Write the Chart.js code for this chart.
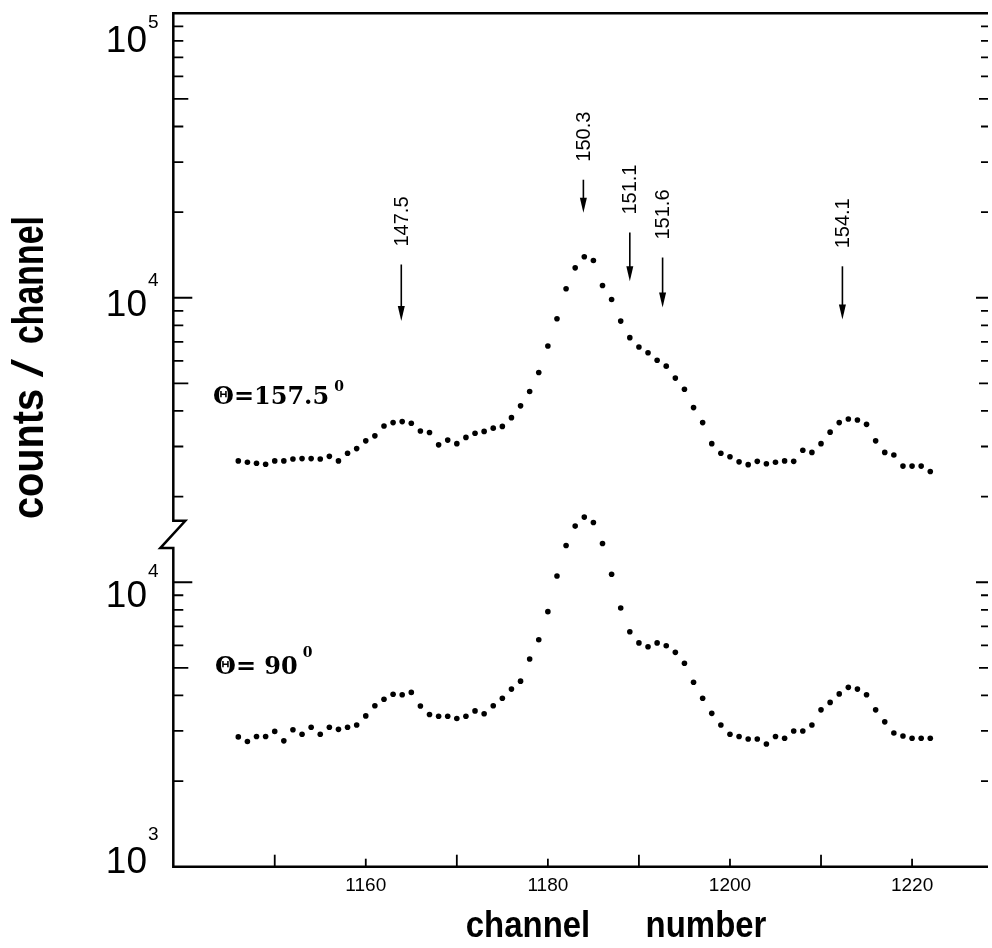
<!DOCTYPE html>
<html>
<head>
<meta charset="utf-8">
<script src="https://cdn.jsdelivr.net/npm/chart.js@4.4.0/dist/chart.umd.min.js"></script>
<style>
  html, body { margin: 0; padding: 0; background: #fff; }
  #wrap { width: 992px; height: 948px; }
</style>
</head>
<body>
<div id="wrap"><canvas id="myChart" width="992" height="948"></canvas></div>
<script>
// channel numbers of the measured points
const channels = [
  1146, 1147, 1148, 1149, 1150, 1151, 1152, 1153, 1154, 1155,
  1156, 1157, 1158, 1159, 1160, 1161, 1162, 1163, 1164, 1165,
  1166, 1167, 1168, 1169, 1170, 1171, 1172, 1173, 1174, 1175,
  1176, 1177, 1178, 1179, 1180, 1181, 1182, 1183, 1184, 1185,
  1186, 1187, 1188, 1189, 1190, 1191, 1192, 1193, 1194, 1195,
  1196, 1197, 1198, 1199, 1200, 1201, 1202, 1203, 1204, 1205,
  1206, 1207, 1208, 1209, 1210, 1211, 1212, 1213, 1214, 1215,
  1216, 1217, 1218, 1219, 1220, 1221, 1222,
];

// counts / channel, theta = 157.5 deg (upper panel)
const counts157 = [
  2670, 2640, 2620, 2600, 2670, 2670, 2710, 2720, 2720, 2710,
  2770, 2670, 2840, 2950, 3140, 3270, 3540, 3640, 3670, 3620,
  3400, 3360, 3040, 3160, 3070, 3230, 3340, 3390, 3480, 3530,
  3790, 4170, 4680, 5460, 6770, 8440, 10760, 12740, 13930, 13520,
  11050, 9860, 8280, 7240, 6710, 6410, 6030, 5750, 5220, 4770,
  4110, 3640, 3070, 2840, 2760, 2650, 2590, 2660, 2610, 2640,
  2670, 2660, 2910, 2860, 3070, 3370, 3640, 3750, 3720, 3590,
  3140, 2860, 2800, 2560, 2560, 2560, 2450,
];

// counts / channel, theta = 90 deg (lower panel)
const counts90 = [
  2860, 2755, 2870, 2870, 2990, 2770, 3030, 2920, 3090, 2920,
  3090, 3040, 3090, 3150, 3390, 3680, 3880, 4040, 4020, 4100,
  3670, 3430, 3380, 3380, 3320, 3380, 3530, 3450, 3680, 3910,
  4210, 4490, 5370, 6280, 7880, 10520, 13460, 15750, 16940, 16210,
  13680, 10670, 8120, 6700, 6120, 5930, 6120, 5980, 5670, 5190,
  4450, 3910, 3460, 3150, 2920, 2870, 2810, 2810, 2700, 2870,
  2830, 3000, 3000, 3150, 3560, 3780, 4050, 4270, 4210, 4020,
  3560, 3230, 2950, 2880, 2830, 2830, 2830,
];

const xTickLabels = [1160, 1180, 1200, 1220];
const xMinorTicks = [1150, 1170, 1190, 1210];

// marked lines (energies), where they sit and how the arrows run
const arrowLabels = ['147.5', '150.3', '151.1', '151.6', '154.1'];
const arrowChannels = [1163.9, 1183.9, 1189.0, 1192.6, 1212.35];
const arrowTips = [8280, 19900, 11440, 9250, 8390];
const arrowTails = [13090, 26000, 16950, 13850, 12900];

const angleLabels = ['157.5', '90'];

// broken axis: visible part of each panel
const upperAxisMin = 1644;
const lowerAxisMax = 13180;

const SANS = '"Liberation Sans", Arial, sans-serif';

function decadeTicks(lo, hi) {
  const out = [];
  for (let d = 1000; d <= 100000; d *= 10) {
    for (let m = 1; m <= 9; m++) {
      const v = m * d;
      if (v > lo && v < hi) out.push({ v, m });
    }
  }
  return out;
}

const framePlugin = {
  id: 'frame',
  afterDraw(chart) {
    const { ctx, chartArea: a, scales } = chart;
    const xs = scales.x;
    const yTop = scales.yTop;
    const yBot = scales.yBot;
    const breakTop = yTop.getPixelForValue(upperAxisMin);
    const breakBot = yBot.getPixelForValue(lowerAxisMax);

    ctx.save();
    ctx.strokeStyle = '#000';
    ctx.fillStyle = '#000';

    // frame with the broken left axis
    ctx.lineWidth = 2.5;
    ctx.lineJoin = 'miter';
    ctx.beginPath();
    ctx.moveTo(a.right, a.top);
    ctx.lineTo(a.left, a.top);
    ctx.lineTo(a.left, breakTop);
    ctx.lineTo(a.left + 12, breakTop);
    ctx.lineTo(a.left - 13, breakBot);
    ctx.lineTo(a.left, breakBot);
    ctx.lineTo(a.left, a.bottom);
    ctx.lineTo(a.right, a.bottom);
    ctx.stroke();

    // y ticks, inward on both sides
    ctx.lineWidth = 1.8;
    const panels = [
      { scale: yTop, ticks: decadeTicks(upperAxisMin, 100000) },
      { scale: yBot, ticks: decadeTicks(1000, lowerAxisMax) },
    ];
    panels.forEach((p) => {
      p.ticks.forEach((t) => {
        const py = p.scale.getPixelForValue(t.v);
        const lenL = t.m === 1 ? 19 : t.m === 5 ? 15 : 10;
        const lenR = t.m === 1 ? 12 : t.m === 5 ? 9 : 7;
        ctx.beginPath();
        ctx.moveTo(a.left, py);
        ctx.lineTo(a.left + lenL, py);
        ctx.moveTo(a.right, py);
        ctx.lineTo(a.right - lenR, py);
        ctx.stroke();
      });
    });

    // x ticks, inward
    [...xMinorTicks, ...xTickLabels].forEach((v) => {
      const px = xs.getPixelForValue(v);
      const len = xTickLabels.includes(v) ? 8 : 12;
      ctx.beginPath();
      ctx.moveTo(px, a.bottom);
      ctx.lineTo(px, a.bottom - len);
      ctx.stroke();
    });

    // y tick labels: 10 with exponent
    const yLabels = [
      { scale: yTop, v: 100000, dy: 38.7, ey: -24 },
      { scale: yTop, v: 10000, dy: 18.7, ey: -30 },
      { scale: yBot, v: 10000, dy: 24.7, ey: -30 },
      { scale: yBot, v: 1000, dy: 6.3, ey: -33 },
    ];
    ctx.textBaseline = 'alphabetic';
    yLabels.forEach((l) => {
      const base = l.scale.getPixelForValue(l.v) + l.dy;
      ctx.font = '37px ' + SANS;
      ctx.textAlign = 'right';
      ctx.fillText('10', 147, base);
      ctx.font = '19px ' + SANS;
      ctx.textAlign = 'left';
      ctx.fillText(String(Math.round(Math.log10(l.v))), 148, base + l.ey);
    });

    // axis titles
    ctx.textAlign = 'center';
    ctx.font = 'bold 37px ' + SANS;
    [['channel', 528], ['number', 706]].forEach(([t, cx]) => {
      ctx.save();
      ctx.translate(cx, 936.7);
      ctx.scale(0.89, 1);
      ctx.fillText(t, 0, 0);
      ctx.restore();
    });
    [
      ['counts', 454, 0.9, 'bold 44px '],
      ['/', 368, 1.5, '44px '],
      ['channel', 280, 0.77, 'bold 44px '],
    ].forEach(([t, cy, sx, f]) => {
      ctx.save();
      ctx.translate(43, cy);
      ctx.rotate(-Math.PI / 2);
      ctx.scale(sx, 1);
      ctx.font = f + SANS;
      ctx.fillText(t, 0, 0);
      ctx.restore();
    });

    // arrows marking the lines
    arrowLabels.forEach((lab, i) => {
      const px = xs.getPixelForValue(arrowChannels[i]);
      const tip = yTop.getPixelForValue(arrowTips[i]);
      const tail = yTop.getPixelForValue(arrowTails[i]);
      ctx.lineWidth = 1.6;
      ctx.beginPath();
      ctx.moveTo(px, tail);
      ctx.lineTo(px, tip - 10);
      ctx.stroke();
      ctx.beginPath();
      ctx.moveTo(px, tip);
      ctx.lineTo(px - 3.5, tip - 15);
      ctx.lineTo(px + 3.5, tip - 15);
      ctx.closePath();
      ctx.fill();
      ctx.save();
      ctx.translate(px + 1, tail - 18);
      ctx.rotate(-Math.PI / 2);
      ctx.font = '20px ' + SANS;
      ctx.textAlign = 'left';
      ctx.textBaseline = 'middle';
      ctx.fillText(lab, 0, 0);
      ctx.restore();
    });

    // angle annotations
    const angles = [
      { text: '\u0398=' + angleLabels[0], x: 213, base: yTop.getPixelForValue(4222), sup: -13 },
      { text: '\u0398= ' + angleLabels[1], x: 215, base: yBot.getPixelForValue(4755), sup: -17 },
    ];
    ctx.textBaseline = 'alphabetic';
    ctx.textAlign = 'left';
    angles.forEach((g) => {
      ctx.font = 'bold 24px "DejaVu Serif", serif';
      ctx.fillText(g.text, g.x, g.base);
      const w = ctx.measureText(g.text).width;
      ctx.font = 'bold 14px "DejaVu Serif", serif';
      ctx.fillText('0', g.x + w + 5, g.base + g.sup);
    });

    ctx.restore();
  },
};

const config = {
  type: 'scatter',
  data: {
    datasets: [
      {
        label: '\u03b8 = 157.5\u00b0',
        data: channels.map((c, i) => ({ x: c, y: counts157[i] })),
        yAxisID: 'yTop',
        pointRadius: 2.8,
        pointBorderWidth: 0,
        pointBackgroundColor: '#000',
        pointBorderColor: '#000',
        showLine: false,
      },
      {
        label: '\u03b8 = 90\u00b0',
        data: channels.map((c, i) => ({ x: c, y: counts90[i] })),
        yAxisID: 'yBot',
        pointRadius: 2.8,
        pointBorderWidth: 0,
        pointBackgroundColor: '#000',
        pointBorderColor: '#000',
        showLine: false,
      },
    ],
  },
  options: {
    responsive: false,
    animation: false,
    devicePixelRatio: 1,
    layout: {
      padding: { left: 173.3, top: 13.3, right: 0, bottom: 0 },
    },
    plugins: {
      legend: { display: false },
      tooltip: { enabled: false },
    },
    scales: {
      x: {
        type: 'linear',
        position: 'bottom',
        min: 1138.86,
        max: 1228.34,
        afterBuildTicks: (s) => {
          s.ticks = xTickLabels.map((v) => ({ value: v }));
        },
        afterFit: (s) => {
          s.height = 81.3;
        },
        grid: { display: false, drawTicks: false },
        border: { display: false },
        ticks: {
          autoSkip: false,
          maxRotation: 0,
          padding: 8,
          color: '#000',
          font: { family: 'Liberation Sans', size: 19 },
          callback: (v) => String(v),
        },
      },
      yTop: {
        type: 'logarithmic',
        position: 'left',
        min: 100,
        max: 100000,
        display: false,
      },
      yBot: {
        type: 'logarithmic',
        position: 'left',
        min: 1000,
        max: 1000000,
        display: false,
      },
    },
  },
  plugins: [framePlugin],
};

const ctx = document.getElementById('myChart').getContext('2d');
new Chart(ctx, config);
</script>
</body>
</html>
